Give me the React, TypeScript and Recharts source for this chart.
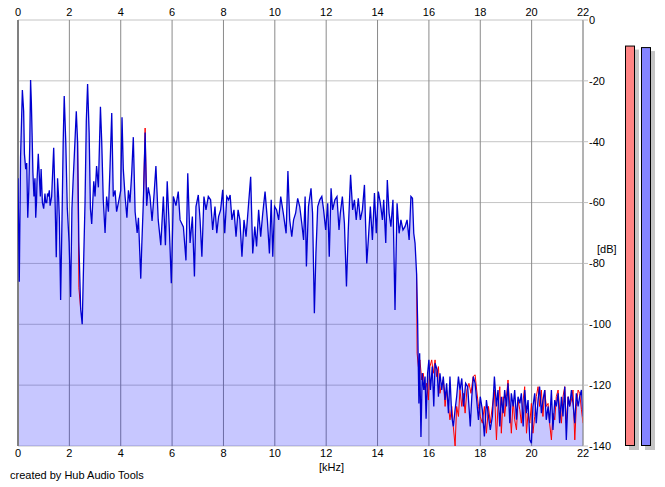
import React from 'react';
import { ComposedChart, Area, Line, XAxis, YAxis, CartesianGrid, BarChart, Bar, ReferenceLine } from 'recharts';

const FONT = '"Liberation Sans", Arial, sans-serif';

const freqTicks = [0, 2, 4, 6, 8, 10, 12, 14, 16, 18, 20, 22];
const dbTicks = [0, -20, -40, -60, -80, -100, -120, -140];

// right channel (blue) spectrum: [kHz, dB]
const blueSpectrum: [number, number][] = [
  [0, -52], [0.05, -86], [0.1, -45], [0.17, -23], [0.22, -30], [0.25, -44], [0.3, -49], [0.34, -47], [0.38, -65],
  [0.42, -56], [0.46, -40], [0.49, -19.7], [0.52, -27], [0.55, -38], [0.58, -50], [0.62, -58], [0.66, -52],
  [0.69, -65], [0.72, -60], [0.74, -53], [0.79, -44], [0.84, -53], [0.87, -58], [0.9, -49], [0.95, -60],
  [1, -62], [1.05, -57], [1.08, -60], [1.12, -60], [1.15, -57], [1.18, -58], [1.22, -56], [1.25, -61],
  [1.31, -58], [1.35, -50], [1.39, -42], [1.44, -58], [1.49, -78], [1.54, -52], [1.58, -58], [1.61, -65],
  [1.66, -92], [1.72, -62], [1.76, -40], [1.8, -25], [1.86, -40], [1.92, -62], [1.99, -73], [2.05, -91],
  [2.1, -62], [2.15, -52], [2.19, -45], [2.27, -30], [2.32, -40], [2.37, -73], [2.44, -95], [2.5, -100],
  [2.56, -78], [2.61, -60], [2.66, -33], [2.71, -21], [2.77, -37], [2.82, -62], [2.87, -67], [2.91, -60],
  [2.95, -53], [3, -58], [3.06, -48], [3.13, -55], [3.21, -28.5], [3.26, -40], [3.32, -59], [3.39, -70],
  [3.45, -58], [3.52, -63], [3.58, -49], [3.65, -30.6], [3.71, -58], [3.78, -56], [3.84, -63], [3.91, -60],
  [4, -56], [4.05, -32], [4.1, -49], [4.17, -58], [4.24, -65], [4.3, -56], [4.36, -60], [4.43, -50],
  [4.49, -38.5], [4.56, -63], [4.64, -70], [4.69, -65], [4.78, -85], [4.82, -74], [4.88, -60], [4.95, -37],
  [5.01, -61], [5.07, -55], [5.14, -58], [5.22, -66], [5.3, -57], [5.37, -48], [5.46, -65.7], [5.56, -74],
  [5.66, -58], [5.74, -74], [5.81, -53], [5.89, -68], [5.97, -86.5], [6.05, -58], [6.15, -61], [6.24, -56.4],
  [6.31, -65.7], [6.44, -68], [6.54, -79], [6.61, -50.4], [6.7, -73.3], [6.79, -64.6], [6.87, -84.3],
  [6.93, -61.3], [7.02, -57.5], [7.09, -65.7], [7.16, -77.8], [7.24, -58], [7.32, -62.4], [7.41, -58],
  [7.5, -59.1], [7.58, -69], [7.67, -61.3], [7.74, -70.1], [7.81, -64.6], [7.89, -62.4], [7.97, -55.8],
  [8.05, -70.1], [8.13, -58], [8.2, -59.1], [8.26, -57.5], [8.33, -65.7], [8.41, -62.4], [8.49, -71.2],
  [8.57, -62.4], [8.64, -65.7], [8.72, -77.8], [8.8, -65.7], [8.88, -71.2], [8.98, -60.2], [9.06, -51.5],
  [9.14, -76.7], [9.22, -67.9], [9.29, -74.4], [9.37, -62.4], [9.45, -71.2], [9.53, -63.5], [9.62, -56.4],
  [9.71, -65.7], [9.79, -76.7], [9.86, -59.1], [9.92, -77.8], [9.99, -61.3], [10.07, -62.4], [10.15, -65.7],
  [10.23, -58], [10.33, -63.5], [10.44, -70.1], [10.51, -49.6], [10.58, -65.7], [10.66, -71.2], [10.73, -65.7],
  [10.81, -63.5], [10.89, -58.6], [10.97, -61.3], [11.05, -66.8], [11.12, -72.3], [11.18, -58], [11.23, -81],
  [11.31, -61.3], [11.41, -55.3], [11.47, -63.5], [11.54, -96.4], [11.6, -76.7], [11.67, -61.3], [11.75, -59.1],
  [11.83, -58], [11.9, -62.4], [11.98, -69], [12.06, -60.2], [12.12, -77.8], [12.19, -55.3], [12.25, -62.4],
  [12.34, -59.1], [12.42, -58], [12.5, -69], [12.55, -63.5], [12.63, -58], [12.71, -66.8], [12.79, -87.6],
  [12.86, -69], [12.95, -50.9], [13.03, -62.4], [13.1, -59.1], [13.17, -65.7], [13.25, -58.6], [13.33, -65.7],
  [13.41, -62.4], [13.49, -54.2], [13.58, -80], [13.64, -72.3], [13.72, -61.3], [13.8, -72.3], [13.88, -56.9],
  [13.95, -70.1], [14.03, -56.4], [14.11, -60.2], [14.19, -65.7], [14.24, -59.1], [14.32, -73.3], [14.38, -52.6],
  [14.45, -63.5], [14.52, -67.9], [14.6, -59.1], [14.68, -95.3], [14.76, -60.2], [14.84, -70.1], [14.91, -65.7],
  [14.99, -69], [15.07, -67.9], [15.15, -65.7], [15.23, -72.3], [15.3, -58], [15.36, -58.6], [15.41, -70.1],
  [15.46, -73.3], [15.52, -83.3], [15.56, -98.6], [15.58, -110], [15.61, -126], [15.64, -109.5], [15.69, -137],
  [15.74, -116], [15.8, -121.6], [15.85, -117.2], [15.89, -131], [15.95, -116], [16, -111.7], [16.06, -121.6],
  [16.13, -113.9], [16.19, -127], [16.24, -112.8], [16.32, -115], [16.37, -123.8], [16.43, -116.1], [16.5, -121.6],
  [16.56, -117.2], [16.63, -124.9], [16.69, -119.4], [16.76, -129.2], [16.82, -117.2], [16.89, -130.3],
  [16.95, -133.6], [17.02, -128], [17.08, -123.8], [17.15, -117.2], [17.21, -121.6], [17.28, -117.8],
  [17.35, -127], [17.43, -119.4], [17.51, -120.5], [17.56, -127], [17.61, -133.6], [17.67, -123.8],
  [17.73, -117.2], [17.8, -119.4], [17.86, -124.9], [17.93, -131.4], [18, -123.8], [18.08, -128.1],
  [18.16, -136.9], [18.24, -124.9], [18.32, -130.3], [18.39, -134.7], [18.47, -130.3], [18.55, -117.2],
  [18.63, -127], [18.69, -121.6], [18.76, -133.6], [18.82, -123.8], [18.89, -129.2], [18.95, -121.6],
  [19.02, -127], [19.08, -119.4], [19.15, -132.5], [19.21, -122.7], [19.28, -127], [19.34, -121.6],
  [19.41, -131.4], [19.47, -123.8], [19.54, -126], [19.6, -122.7], [19.67, -133.6], [19.73, -121.6],
  [19.8, -129.2], [19.86, -124.9], [19.93, -138], [19.99, -139.1], [20.05, -127], [20.12, -122.7],
  [20.18, -132.5], [20.25, -124.9], [20.31, -120.5], [20.38, -129.2], [20.44, -124.9], [20.51, -121.6],
  [20.57, -131.4], [20.64, -127], [20.7, -132.5], [20.77, -121.6], [20.83, -134.7], [20.9, -124.9],
  [20.96, -127], [21.03, -122.7], [21.09, -132.5], [21.16, -123.8], [21.22, -130.3], [21.29, -120.5],
  [21.35, -138], [21.42, -123.8], [21.48, -127], [21.55, -121.6], [21.61, -126], [21.68, -132.5],
  [21.74, -122.7], [21.81, -127], [21.87, -123.8], [21.94, -121.6], [22, -130.3],
];

// left channel (red) where it shows from under the blue trace: [kHz, dB | null]
const redSpectrum: [number, number | null][] = [
  [2.32, -40], [2.37, -88], [2.44, -95], [2.5, null],
  [4.88, -60], [4.95, -35.5], [5.01, -61], [5.07, null],
  [15.52, -83.3], [15.54, -109.5], [15.59, -113.9], [15.65, -111.7], [15.72, -118.3], [15.78, -116.1],
  [15.85, -121.6], [15.91, -119.4], [15.98, -124.9], [16.04, -113.9], [16.11, -111.7], [16.17, -116.1],
  [16.24, -111.7], [16.3, -117.2], [16.37, -113.9], [16.43, -122.7], [16.5, -119.4], [16.56, -118.3],
  [16.63, -127], [16.69, -121.6], [16.76, -127], [16.82, -131.4], [16.89, -127], [16.95, -133.6],
  [17.02, -140], [17.08, -127], [17.15, -130.3], [17.21, -121.6], [17.28, -127], [17.34, -122.7],
  [17.41, -129.2], [17.48, -121.6], [17.56, -119.4], [17.64, -122.7], [17.72, -117.2], [17.8, -116.6],
  [17.86, -121.6], [17.93, -127], [18, -130.3], [18.08, -132.5], [18.16, -127], [18.24, -135.8],
  [18.32, -127], [18.39, -132.5], [18.47, -127], [18.55, -121.6], [18.63, -138], [18.69, -127],
  [18.76, -120.5], [18.82, -135.8], [18.89, -123.8], [18.95, -130.3], [19.02, -123.8], [19.08, -118.3],
  [19.15, -127], [19.21, -135.8], [19.28, -124.9], [19.34, -131.4], [19.41, -134.7], [19.47, -124.9],
  [19.54, -128.1], [19.6, -132.5], [19.67, -124.9], [19.73, -120.5], [19.8, -135.8], [19.86, -129.2],
  [19.93, -132.5], [19.99, -126], [20.05, -135.8], [20.12, -130.3], [20.18, -123.8], [20.25, -120.5],
  [20.31, -127], [20.38, -121.6], [20.44, -130.3], [20.51, -121.6], [20.57, -127], [20.64, -126],
  [20.7, -132.5], [20.77, -138], [20.83, -129.2], [20.9, -131.4], [20.96, -123.8], [21.03, -121.6],
  [21.09, -128.1], [21.16, -132.5], [21.22, -123.8], [21.29, -120.5], [21.35, -132.5], [21.42, -123.8],
  [21.48, -127], [21.55, -124.9], [21.61, -121.6], [21.68, -138], [21.74, -127], [21.81, -121.6],
  [21.87, -122.7], [21.94, -128.1], [22, -132.5],
];

const meterChannels = ['L', 'R'];
const meterLevels = [-8.4, -8.9];
const meterColors = ['#ff8484', '#8484ff'];

const blueData = blueSpectrum.map(([f, v]) => ({ f, v }));
const redData = redSpectrum.map(([f, v]) => ({ f, v }));
const meterData = meterChannels.map((ch, i) => ({ ch, range: [-140, meterLevels[i]], color: meterColors[i] }));

const MeterShape = (props: any) => {
  const { x, y, width, height, payload } = props;
  return (
    <g>
      <rect x={x + 4} y={y + 4} width={width} height={height} fill="#c4c4c4" />
      <rect x={x + 0.5} y={y + 0.5} width={width - 1} height={height - 1} fill={payload.color} stroke="#000" strokeWidth={1} />
    </g>
  );
};

const tickStyle = { fill: '#000', fontSize: 11, fontFamily: FONT };

export default function App() {
  return (
    <div style={{ position: 'absolute', left: 0, top: 0, width: 665, height: 487, background: '#fff', fontFamily: FONT }}>
      <ComposedChart width={665} height={487} margin={{ top: 0, right: 0, bottom: 0, left: 18 }}>
        <XAxis xAxisId="t" orientation="top" type="number" dataKey="f" domain={[0, 22]} ticks={freqTicks}
          height={20} tickLine={false} axisLine={false} tickSize={0} tickMargin={4} tick={tickStyle} allowDataOverflow />
        <XAxis xAxisId="b" orientation="bottom" type="number" dataKey="f" domain={[0, 22]} ticks={freqTicks}
          height={41} tickLine={false} axisLine={false} tickSize={0} tickMargin={3} tick={tickStyle} allowDataOverflow />
        <YAxis yAxisId="y" orientation="right" type="number" domain={[-140, 0]} ticks={dbTicks} width={82}
          axisLine={{ stroke: '#a0a0a0' }} tickLine={{ stroke: '#c0c0c0' }} tickSize={5} tickMargin={1} tick={tickStyle} />
        <CartesianGrid xAxisId="b" yAxisId="y" vertical={false} stroke="#c4c4c4" />
        <CartesianGrid xAxisId="b" yAxisId="y" horizontal={false} stroke="#8a8a8a" />
        <Area xAxisId="b" yAxisId="y" data={blueData} dataKey="v" type="linear" stroke="none" fill="#0000ff"
          fillOpacity={0.22} baseValue={-140} isAnimationActive={false} />
        <ReferenceLine xAxisId="b" yAxisId="y" x={0} stroke="#808080" strokeWidth={2} />
        <Line xAxisId="b" yAxisId="y" data={redData} dataKey="v" type="linear" stroke="#ff0000" strokeWidth={1}
          dot={false} activeDot={false} connectNulls={false} isAnimationActive={false} />
        <Line xAxisId="b" yAxisId="y" data={blueData} dataKey="v" type="linear" stroke="#0000d0" strokeWidth={1.3}
          dot={false} activeDot={false} isAnimationActive={false} />
      </ComposedChart>
      <div style={{ position: 'absolute', left: 622, top: 0 }}>
        <BarChart width={40} height={487} data={meterData} margin={{ top: 20, right: 8, bottom: 41, left: 0 }} barCategoryGap={0}>
          <XAxis dataKey="ch" hide />
          <YAxis type="number" domain={[-140, 0]} hide />
          <Bar dataKey="range" barSize={10} isAnimationActive={false} shape={MeterShape} />
        </BarChart>
      </div>
      <div style={{ position: 'absolute', left: 319, top: 461, fontSize: 11, color: '#000' }}>[kHz]</div>
      <div style={{ position: 'absolute', left: 597, top: 243, fontSize: 11, color: '#000' }}>[dB]</div>
      <div style={{ position: 'absolute', left: 10, top: 469, fontSize: 11, color: '#000' }}>created by Hub Audio Tools</div>
    </div>
  );
}
